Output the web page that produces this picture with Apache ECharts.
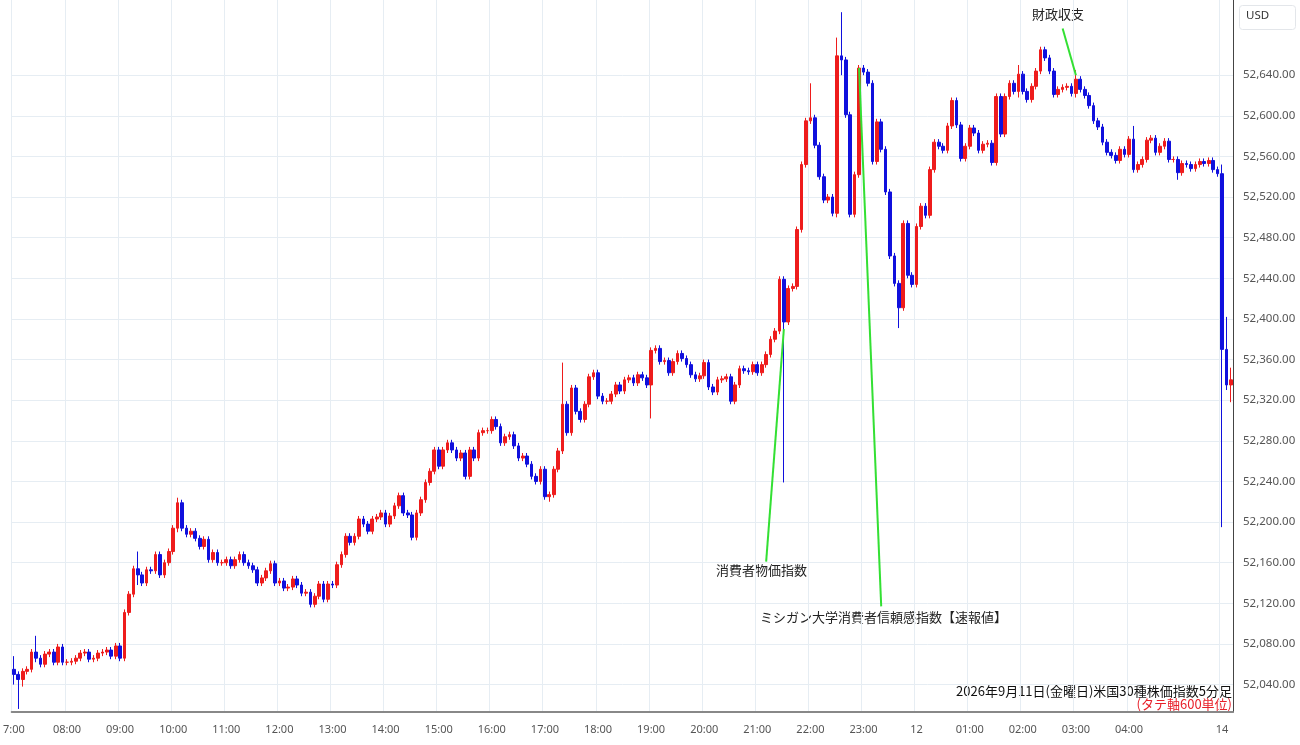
<!DOCTYPE html>
<html><head><meta charset="utf-8">
<script src="https://cdn.jsdelivr.net/npm/echarts@6/dist/echarts.min.js"></script>
<style>html,body{margin:0;padding:0;background:#fff}#main{width:1300px;height:745px}</style>
</head><body><div id="main"></div>
<script>
// 5分足 終値 (1時間ごと12本)
var h07 = [52050,52045,52053,52055,52072,52066,52060,52070,52072,52062,52077,52062];
var h08 = [52062,52063,52066,52071,52072,52065,52066,52071,52072,52074,52068,52078];
var h09 = [52066,52111,52129,52154,52148,52140,52153,52152,52168,52148,52160,52171];
var h10 = [52194,52219,52194,52188,52191,52184,52176,52183,52163,52170,52160,52160];
var h11 = [52163,52157,52163,52168,52160,52157,52153,52140,52145,52152,52159,52140];
var h12 = [52142,52135,52136,52144,52138,52130,52131,52119,52127,52139,52124,52139];
var h13 = [52138,52158,52168,52186,52180,52186,52203,52198,52191,52203,52205,52209];
var h14 = [52198,52206,52216,52226,52209,52207,52185,52209,52222,52239,52250,52271];
var h15 = [52255,52271,52278,52271,52263,52268,52245,52271,52263,52288,52290,52290];
var h16 = [52301,52294,52278,52284,52286,52275,52263,52265,52257,52245,52240,52252];
var h17 = [52225,52227,52252,52270,52316,52288,52332,52309,52301,52316,52343,52347];
var h18 = [52324,52319,52319,52326,52335,52329,52340,52342,52337,52345,52342,52335];
var h19 = [52369,52371,52358,52359,52347,52358,52366,52361,52355,52345,52341,52344];
var h20 = [52357,52333,52328,52340,52341,52343,52319,52335,52351,52349,52348,52355];
var h21 = [52347,52355,52365,52380,52388,52439,52397,52430,52432,52488,52552,52595];
var h22 = [52598,52571,52540,52517,52520,52504,52659,52655,52601,52503,52542,52647];
var h23 = [52643,52632,52555,52594,52567,52525,52462,52435,52411,52494,52443,52434];
var h00 = [52491,52511,52502,52547,52574,52570,52566,52590,52615,52591,52558,52570];
var h01 = [52588,52583,52566,52572,52573,52554,52619,52582,52619,52632,52624,52641];
var h02 = [52624,52616,52629,52644,52665,52657,52644,52621,52626,52628,52629,52622];
var h03 = [52636,52626,52620,52610,52595,52589,52574,52564,52561,52556,52567,52562];
var h04 = [52577,52547,52552,52557,52576,52578,52564,52570,52575,52557,52557,52544];
var h05 = [52553,52552,52548,52552,52555,52553,52556,52547,52543];
var d14 = [52370,52335,52340];
var firstOpen = 52055;

// 目立つヒゲ (index: [高値, 安値])
var wicks = {
  0:[52068,52040], 1:[52052,52016], 2:[52055,52038], 5:[52088,52062], 28:[52171,52138],
  37:[52224,52190], 121:[52230,52220], 124:[52357,52268], 144:[52369,52302],
  174:[52441,52239], 180:[52632,52592], 186:[52677,52500], 187:[52702,52640],
  200:[52436,52391], 227:[52650,52618], 240:[52645,52618], 253:[52590,52562],
  263:[52560,52537], 273:[52552,52195], 274:[52402,52330], 275:[52352,52318]
};
var yTicks = [52040,52080,52120,52160,52200,52240,52280,52320,52360,52400,52440,52480,52520,52560,52600,52640];

var closes = [].concat(h07,h08,h09,h10,h11,h12,h13,h14,h15,h16,h17,h18,h19,h20,h21,h22,h23,h00,h01,h02,h03,h04,h05,d14);
var hoursSeq = [7,8,9,10,11,12,13,14,15,16,17,18,19,20,21,22,23,0,1,2,3,4,5];
var cats = [];
hoursSeq.forEach(function(h){
  var n = h === 5 ? 9 : 12;
  for (var m = 0; m < n; m++) cats.push((h<10?'0':'')+h+':'+(m*5<10?'0':'')+m*5);
});
cats.push('14', '14:05', '14:10');

var ohlc = closes.map(function(c, i){
  var o = i === 0 ? firstOpen : closes[i-1];
  var hi = Math.max(o,c)+3, lo = Math.min(o,c)-3;
  if (wicks[i]) { hi = Math.max(hi, wicks[i][0]); lo = Math.min(lo, wicks[i][1]); }
  return [o, c, lo, hi];
});

function isLabel(i){ return i === cats.length-3 || (cats[i].slice(3) === '00' && cats[i] !== '05:00'); }
function lbl(v, i){
  if (i === cats.length-3) return '14';
  if (v === '00:00') return '12';
  if (v === '07:00') return '7:00';
  return v;
}

var myChart = echarts.init(document.getElementById('main'));
var green = {color:'#33e033', width:2, type:'solid'};
var option = {
  animation:false,
  grid:{left:2, right:67, top:0, bottom:33},
  xAxis:{
    type:'category', data:cats, boundaryGap:true,
    axisLine:{lineStyle:{color:'#888', width:2}},
    axisTick:{show:false},
    axisLabel:{interval:function(i){return isLabel(i);}, formatter:lbl, color:'#555', fontSize:11, margin:12, fontFamily:'Noto Sans'},
    splitLine:{show:true, interval:function(i){return isLabel(i);}, lineStyle:{color:'#e6edf3'}}
  },
  yAxis:{
    type:'value', position:'right', min:52013, max:52714, scale:true,
    axisLine:{show:true, lineStyle:{color:'#444'}},
    axisTick:{show:false, customValues:yTicks},
    axisLabel:{customValues:yTicks, color:'#555', fontSize:11.5, margin:10, fontFamily:'Noto Sans',
      formatter:function(v){return v.toLocaleString('en-US')+'.00';}},
    splitLine:{lineStyle:{color:'#e6edf3'}}
  },
  series:[{
    type:'candlestick', data:ohlc, barWidth:'72%',
    itemStyle:{color:'#ee1c1c', borderColor:'#ee1c1c', color0:'#1010dd', borderColor0:'#1010dd', borderWidth:1},
    markLine:{
      silent:true, symbol:'none', label:{show:false}, lineStyle:green,
      data:[
        [{coord:[174,52390]},{coord:[170,52161]}],
        [{coord:[191,52647]},{coord:[196,52117]}],
        [{coord:[240,52640]},{coord:[237,52686]}]
      ]
    }
  }],
  graphic:[
    {type:'text', left:716, top:564, style:{text:'消費者物価指数', fontSize:13, fill:'#222', fontFamily:'Noto Sans CJK JP'}},
    {type:'text', left:760, top:611, style:{text:'ミシガン大学消費者信頼感指数【速報値】', fontSize:13, fill:'#222', fontFamily:'Noto Sans CJK JP'}},
    {type:'text', left:1032, top:8, style:{text:'財政収支', fontSize:13, fill:'#222', fontFamily:'Noto Sans CJK JP'}},
    {type:'text', right:68, top:685, style:{text:'2026年9月11日(金曜日)米国30種株価指数5分足', fontSize:13, fill:'#111', fontFamily:'Noto Sans CJK JP'}},
    {type:'text', right:68, top:698, style:{text:'(タテ軸600単位)', fontSize:13, fill:'#e8202a', fontFamily:'Noto Sans CJK JP'}},
    {type:'rect', left:1239, top:5, shape:{width:56, height:24, r:3}, style:{fill:'#fff', stroke:'#e3e6ea'}},
    {type:'text', left:1246, top:10, style:{text:'USD', fontSize:11.5, fill:'#333', fontFamily:'Noto Sans'}}
  ]
};
myChart.setOption(option);
</script></body></html>
